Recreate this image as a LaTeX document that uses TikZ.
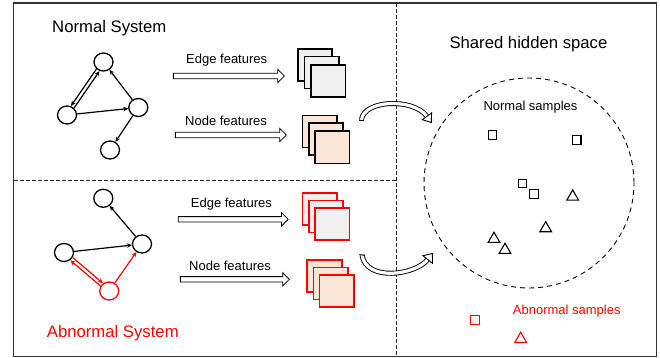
\documentclass[tikz,border=0pt]{standalone}
\usepackage{fontspec}
\setmainfont{Liberation Sans}
\usetikzlibrary{arrows.meta,shapes.arrows,shapes.geometric}
\definecolor{grayfill}{HTML}{F0F0F0}
\definecolor{peach}{HTML}{FBE5D6}
\definecolor{myred}{HTML}{FF0000}
\begin{document}
\begin{tikzpicture}[x=1pt,y=-1pt,
  gnode/.style={draw, ellipse, line width=1.3pt, minimum width=19pt, minimum height=18pt, inner sep=0pt},
  gedge/.style={line width=1.2pt, -{Stealth[length=5pt,width=4.5pt]}},
  blockarrow/.style={draw, single arrow, line width=0.8pt, inner xsep=0pt, inner ysep=2.3pt, single arrow head extend=4pt, fill=white},
  sq/.style={draw, line width=1.6pt, minimum width=34.5pt, minimum height=32pt, inner sep=0pt},
  lbl/.style={font=\fontsize{13}{15}\selectfont, inner sep=0pt, anchor=base west},
  title/.style={font=\fontsize{16.7}{19}\selectfont, inner sep=0pt, anchor=base west},
  smp/.style={draw, line width=1.1pt, minimum size=8.5pt, inner sep=0pt},
  tri/.style={draw, regular polygon, regular polygon sides=3, line width=1.1pt, minimum size=13.5pt, inner sep=0pt},
  hollow/.style={double, double distance=3.2pt, line width=0.9pt},
  hollowhead/.style={fill=white, draw, line width=0.9pt, line join=miter},
  divider/.style={dash pattern=on 4pt off 2pt, line width=0.9pt, black!85}
]
\useasboundingbox (0,0) rectangle (660,358);
% frame and dividers
\draw[line width=1.3pt, black!80] (13.5,3) rectangle (656.5,356.5);
\coordinate (vt) at (396,3);
\coordinate (vb) at (396,356.5);
\coordinate (hl) at (13.5,180.5);
\coordinate (hr) at (396,180.5);
\draw[divider] (vt) -- (vb);
\draw[divider] (hl) -- (hr);

% titles
\node[title] (tn) at (52,33) {Normal System};
\node[title, text=myred] (ta) at (46.7,337) {Abnormal System};
\node[title] (ts) at (449.3,48.5) {Shared hidden space};

% normal graph
\node[gnode] (T) at (103.5,62) {};
\node[gnode] (L) at (67,115) {};
\node[gnode] (R) at (138.3,107.5) {};
\node[gnode] (B) at (110,150) {};
\draw[gedge, transform canvas={shift={(1.5pt,-1.05pt)}}] (L) -- (T);
\draw[gedge, transform canvas={shift={(-1.5pt,1.05pt)}}] (T) -- (L);
\draw[gedge] (R) -- (T);
\draw[gedge] (L) -- (R);
\draw[gedge] (R) -- (B);

% abnormal graph
\node[gnode] (T2) at (103.3,198.3) {};
\node[gnode] (L2) at (64,252.5) {};
\node[gnode] (R2) at (142,244) {};
\node[gnode, draw=myred] (B2) at (109.2,291) {};
\draw[gedge] (R2) -- (T2);
\draw[gedge] (L2) -- (R2);
\draw[gedge, myred, transform canvas={shift={(1.2pt,1.36pt)}}] (L2) -- (B2);
\draw[gedge, myred, transform canvas={shift={(-1.2pt,-1.36pt)}}] (B2) -- (L2);
\draw[gedge, myred] (B2) -- (R2);

% labels and block arrows
\node[lbl] (le1) at (186,63.5) {Edge features};
\node[lbl] (ln1) at (185,126) {Node features};
\node[lbl] (le2) at (190.7,207.3) {Edge features};
\node[lbl] (ln2) at (189,270) {Node features};
\node[blockarrow, minimum height=111pt] (ae1) at (227.5,76) {};
\node[blockarrow, minimum height=111pt] (an1) at (229.5,135) {};
\node[blockarrow, minimum height=110pt] (ae2) at (231.8,219.3) {};
\node[blockarrow, minimum height=109pt] (an2) at (233.5,279.3) {};

% feature stacks
\node[sq, fill=grayfill] (ge1) at (315,65) {};
\node[sq, fill=grayfill] (ge2) at (321.7,72.5) {};
\node[sq, fill=grayfill] (ge3) at (328.3,80.8) {};
\node[sq, fill=peach] (pn1) at (319.8,131.7) {};
\node[sq, fill=peach] (pn2) at (326,139.3) {};
\node[sq, fill=peach] (pn3) at (332.2,147.3) {};
\node[sq, fill=grayfill, draw=myred] (re1) at (319.8,209) {};
\node[sq, fill=grayfill, draw=myred] (re2) at (326,216.5) {};
\node[sq, fill=grayfill, draw=myred] (re3) at (332.2,224) {};
\node[sq, fill=peach, draw=myred] (rn1) at (324.5,276) {};
\node[sq, fill=peach, draw=myred] (rn2) at (330.6,283.5) {};
\node[sq, fill=peach, draw=myred] (rn3) at (336.7,291) {};

% curved hollow arrows
\coordinate (cu0) at (361.5,120);
\coordinate (cub) at (426.9,116.3);
\coordinate (cut) at (431.3,122.5);
\coordinate (cuc1) at (431.6,112.9);
\coordinate (cuc2) at (422.2,119.7);
\draw[hollow] (cu0) .. controls (363,100) and (413,97.5) .. (cub);
\draw[line width=0.9pt] (358.9,120) -- (364.1,120);
\draw[hollowhead] (cuc1) -- (cut) -- (cuc2) -- cycle;

\coordinate (cl0) at (362,255);
\coordinate (clb) at (427.7,259.5);
\coordinate (clt) at (432.4,253.5);
\coordinate (clc1) at (432.5,263.3);
\coordinate (clc2) at (422.9,255.7);
\draw[hollow] (cl0) .. controls (366,282) and (415.3,275.2) .. (clb);
\draw[line width=0.9pt] (359.4,254.6) -- (364.6,255.4);
\draw[hollowhead] (clc1) -- (clt) -- (clc2) -- cycle;

% shared hidden space
\node[draw, circle, dash pattern=on 5pt off 4pt, line width=0.9pt, minimum size=210pt, inner sep=0pt] (hs) at (529,183) {};
\node[lbl] (ns) at (483.3,111) {Normal samples};
\node[smp] (s1) at (492.3,135) {};
\node[smp] (s2) at (576.7,140) {};
\node[smp] (s3) at (522.3,183.3) {};
\node[smp] (s4) at (534,194) {};
\node[tri] (t1) at (572.7,196.7) {};
\node[tri] (t2) at (545.7,228.4) {};
\node[tri] (t3) at (494,239) {};
\node[tri] (t4) at (505,250) {};
\node[lbl, text=myred] (as) at (512.7,314) {Abnormal samples};
\node[smp, draw=myred] (rs) at (475,320) {};
\node[tri, draw=myred] (rt) at (520.7,339) {};
\end{tikzpicture}
\end{document}
